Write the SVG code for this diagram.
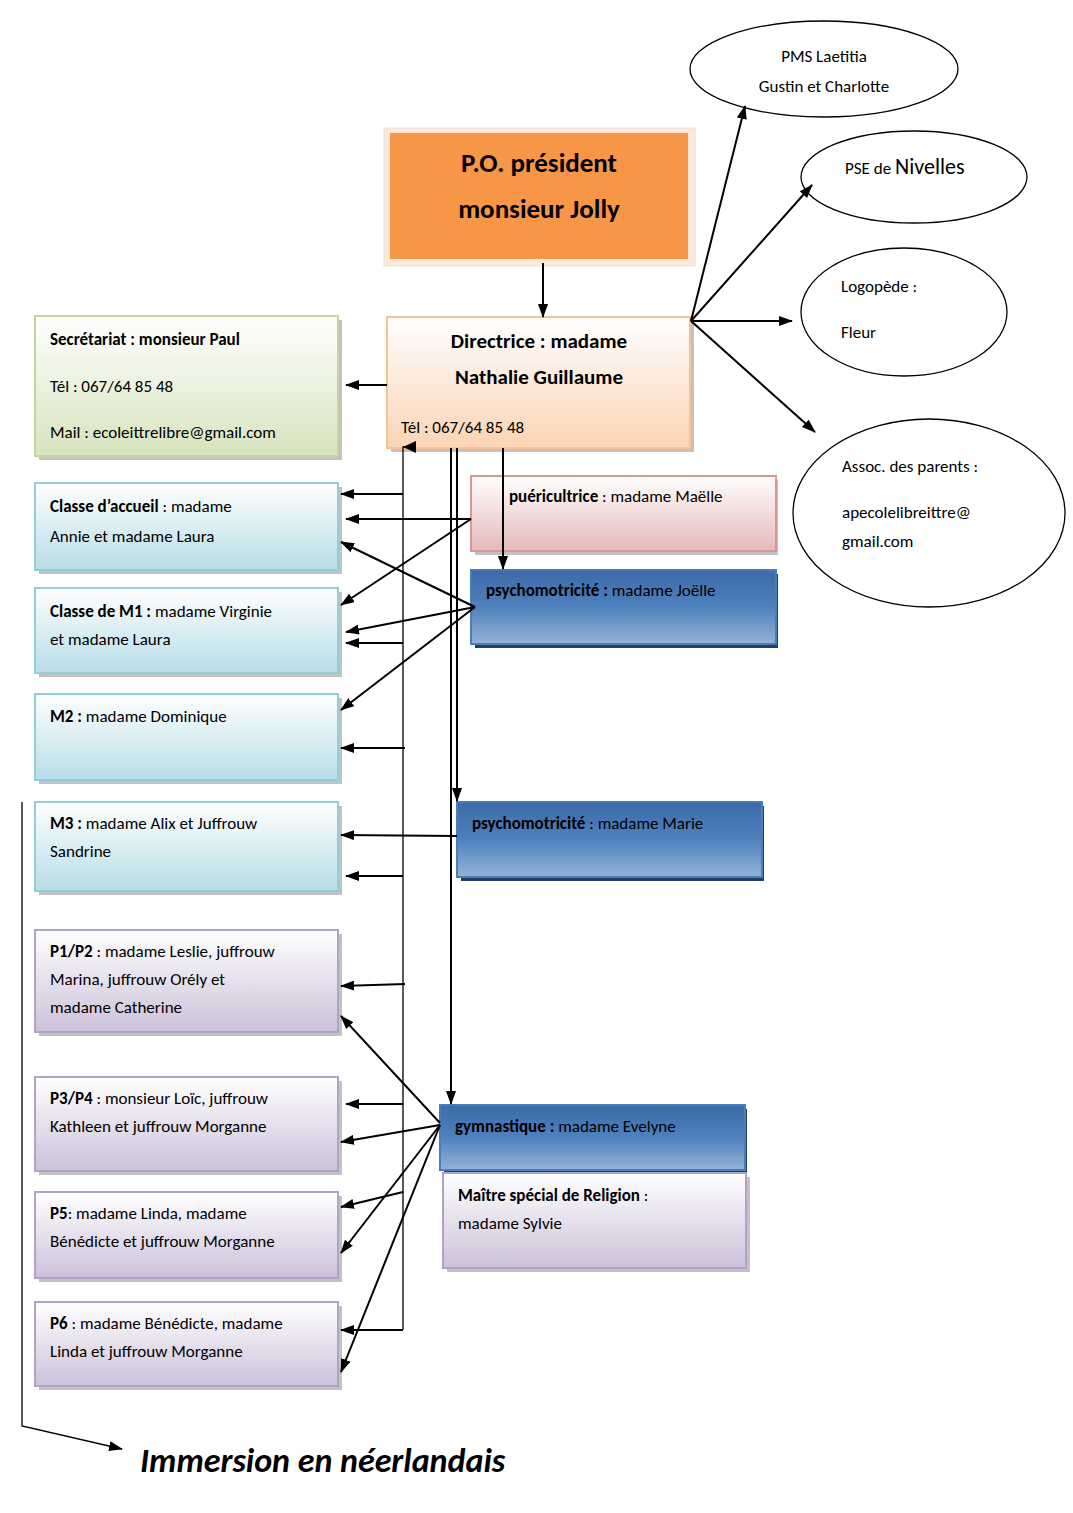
<svg xmlns="http://www.w3.org/2000/svg" width="1073" height="1513" viewBox="0 0 1073 1513">
<defs>
<linearGradient id="gG" x1="0" y1="0" x2="0" y2="1"><stop offset="0" stop-color="#ffffff"/><stop offset="1" stop-color="#d7e4bd"/></linearGradient>
<linearGradient id="gC" x1="0" y1="0" x2="0" y2="1"><stop offset="0" stop-color="#ffffff"/><stop offset="1" stop-color="#b7dde8"/></linearGradient>
<linearGradient id="gP" x1="0" y1="0" x2="0" y2="1"><stop offset="0" stop-color="#ffffff"/><stop offset="1" stop-color="#ccc1da"/></linearGradient>
<linearGradient id="gO" x1="0" y1="0" x2="0" y2="1"><stop offset="0" stop-color="#ffffff"/><stop offset="1" stop-color="#fbd4b4"/></linearGradient>
<linearGradient id="gR" x1="0" y1="0" x2="0" y2="1"><stop offset="0" stop-color="#ffffff"/><stop offset="1" stop-color="#e5b9b7"/></linearGradient>
<linearGradient id="gB" x1="0" y1="0" x2="0" y2="1"><stop offset="0" stop-color="#3c6aa8"/><stop offset="0.5" stop-color="#4f81bd"/><stop offset="1" stop-color="#95b3d7"/></linearGradient>
<marker id="a" markerWidth="10" markerHeight="8" refX="9" refY="4" orient="auto" markerUnits="userSpaceOnUse"><path d="M0,0 L10,4 L0,8 z" fill="#000"/></marker>
<marker id="b" markerWidth="14" markerHeight="10" refX="13" refY="5" orient="auto" markerUnits="userSpaceOnUse"><path d="M0,0 L14,5 L0,10 z" fill="#000"/></marker>
</defs>
<style>
text{font-family:Calibri,"Carlito","Liberation Sans",sans-serif;fill:#000}
.t{font-size:17px}
.bd{font-weight:bold}
.sh{fill:#999;opacity:.6}
.ln{stroke:#000;stroke-width:2;fill:none;marker-end:url(#b)}
.th{stroke:#000;stroke-width:1.3;fill:none}
.el{fill:#fff;stroke:#000;stroke-width:1.3}
</style>
<rect width="1073" height="1513" fill="#fff"/>

<g id="po"><rect x="384" y="128" width="311" height="138" fill="#fde9d9" stroke="#e8e0d8"/><rect x="390" y="133" width="298" height="126" fill="#f79646"/>
<text x="539" y="172" text-anchor="middle" class="bd" font-size="27">P.O. président</text><text x="539" y="218" text-anchor="middle" class="bd" font-size="27">monsieur Jolly</text></g>

<g id="dir"><rect x="391" y="321" width="303" height="131" class="sh"/><rect x="387" y="317" width="303" height="131" fill="url(#gO)" stroke="#fac090" stroke-width="2"/>
<text x="539" y="348" text-anchor="middle" class="bd" font-size="21">Directrice : madame</text><text x="539" y="384" text-anchor="middle" class="bd" font-size="21">Nathalie Guillaume</text><text x="401" y="433" class="t">Tél : 067/64 85 48</text></g>

<g id="sec"><rect x="39" y="320" width="303" height="140" class="sh"/><rect x="35" y="316" width="303" height="140" fill="url(#gG)" stroke="#c3d69b" stroke-width="2"/>
<text x="50" y="345" class="t bd" font-size="18">Secrétariat : monsieur Paul</text><text x="50" y="392" class="t">Tél : 067/64 85 48</text><text x="50" y="438" class="t">Mail : ecoleittrelibre@gmail.com</text></g>

<g id="acc"><rect x="39" y="487" width="303" height="87" class="sh"/><rect x="35" y="483" width="303" height="87" fill="url(#gC)" stroke="#92cddc" stroke-width="2"/>
<text x="50" y="512" class="t" font-size="18"><tspan class="bd">Classe d’accueil</tspan> : madame</text><text x="50" y="542" class="t" font-size="18">Annie et madame Laura</text></g>
<g id="m1"><rect x="39" y="592" width="303" height="85" class="sh"/><rect x="35" y="588" width="303" height="85" fill="url(#gC)" stroke="#92cddc" stroke-width="2"/>
<text x="50" y="617" class="t"><tspan class="bd">Classe de M1 :</tspan> madame Virginie</text><text x="50" y="645" class="t">et madame Laura</text></g>
<g id="m2"><rect x="39" y="698" width="303" height="86" class="sh"/><rect x="35" y="694" width="303" height="86" fill="url(#gC)" stroke="#92cddc" stroke-width="2"/>
<text x="50" y="722" class="t"><tspan class="bd">M2 :</tspan> madame Dominique</text></g>
<g id="m3"><rect x="39" y="806" width="303" height="89" class="sh"/><rect x="35" y="802" width="303" height="89" fill="url(#gC)" stroke="#92cddc" stroke-width="2"/>
<text x="50" y="829" class="t"><tspan class="bd">M3 :</tspan> madame Alix et Juffrouw</text><text x="50" y="857" class="t">Sandrine</text></g>

<g id="p12"><rect x="39" y="934" width="303" height="102" class="sh"/><rect x="35" y="930" width="303" height="102" fill="url(#gP)" stroke="#b2a2c7" stroke-width="2"/>
<text x="50" y="957" class="t"><tspan class="bd">P1/P2</tspan> : madame Leslie, juffrouw</text><text x="50" y="985" class="t">Marina, juffrouw Orély et</text><text x="50" y="1013" class="t">madame Catherine</text></g>
<g id="p34"><rect x="39" y="1081" width="303" height="94" class="sh"/><rect x="35" y="1077" width="303" height="94" fill="url(#gP)" stroke="#b2a2c7" stroke-width="2"/>
<text x="50" y="1104" class="t"><tspan class="bd">P3/P4</tspan> : monsieur Loïc, juffrouw</text><text x="50" y="1132" class="t">Kathleen et juffrouw Morganne</text></g>
<g id="p5"><rect x="39" y="1196" width="303" height="86" class="sh"/><rect x="35" y="1192" width="303" height="86" fill="url(#gP)" stroke="#b2a2c7" stroke-width="2"/>
<text x="50" y="1219" class="t"><tspan class="bd">P5</tspan>: madame Linda, madame</text><text x="50" y="1247" class="t">Bénédicte et juffrouw Morganne</text></g>
<g id="p6"><rect x="39" y="1306" width="303" height="84" class="sh"/><rect x="35" y="1302" width="303" height="84" fill="url(#gP)" stroke="#b2a2c7" stroke-width="2"/>
<text x="50" y="1329" class="t"><tspan class="bd">P6</tspan> : madame Bénédicte, madame</text><text x="50" y="1357" class="t">Linda et juffrouw Morganne</text></g>

<g id="pueri"><rect x="475" y="480" width="303" height="75" class="sh"/><rect x="471" y="476" width="305" height="75" fill="url(#gR)" stroke="#d99694" stroke-width="2"/>
<text x="509" y="502" class="t"><tspan class="bd">puéricultrice</tspan> : madame Maëlle</text></g>
<g id="psy1"><rect x="475" y="574" width="303" height="74" fill="#243f60"/><rect x="471" y="570" width="305" height="74" fill="url(#gB)" stroke="#4a7ebb" stroke-width="2"/>
<text x="486" y="596" class="t"><tspan class="bd">psychomotricité :</tspan> madame Joëlle</text></g>
<g id="psy2"><rect x="461" y="806" width="303" height="75" fill="#243f60"/><rect x="457" y="802" width="305" height="75" fill="url(#gB)" stroke="#4a7ebb" stroke-width="2"/>
<text x="472" y="829" class="t"><tspan class="bd">psychomotricité</tspan> : madame Marie</text></g>
<g id="gym"><rect x="444" y="1109" width="303" height="65" fill="#243f60"/><rect x="440" y="1105" width="305" height="65" fill="url(#gB)" stroke="#4a7ebb" stroke-width="2"/>
<text x="455" y="1132" class="t"><tspan class="bd">gymnastique :</tspan> madame Evelyne</text></g>
<g id="rel"><rect x="447" y="1177" width="303" height="95" class="sh"/><rect x="443" y="1173" width="303" height="95" fill="url(#gP)" stroke="#b2a2c7" stroke-width="2"/>
<text x="458" y="1201" class="t"><tspan class="bd">Maître spécial de Religion</tspan> :</text><text x="458" y="1229" class="t">madame Sylvie</text></g>

<g id="pms"><ellipse cx="824" cy="69" rx="134" ry="48" class="el"/><text x="824" y="62" text-anchor="middle" class="t" font-size="18">PMS Laetitia</text><text x="824" y="92" text-anchor="middle" class="t" font-size="18">Gustin et Charlotte</text></g>
<g id="pse"><ellipse cx="914" cy="177" rx="113" ry="46" class="el"/><text x="845" y="174" class="t">PSE de <tspan font-size="22">Nivelles</tspan></text></g>
<g id="logo"><ellipse cx="904" cy="312" rx="103" ry="64" class="el"/><text x="841" y="292" class="t">Logopède :</text><text x="841" y="338" class="t">Fleur</text></g>
<g id="assoc"><ellipse cx="929" cy="513" rx="136" ry="94" class="el"/><text x="842" y="472" class="t">Assoc.  des parents :</text><text x="842" y="518" class="t">apecolelibreittre@</text><text x="842" y="547" class="t">gmail.com</text></g>

<g id="imm"><text x="140" y="1472" font-family="'Liberation Serif',serif" font-style="italic" font-weight="bold" font-size="34">Immersion en néerlandais</text></g>

<g id="connectors">
<line x1="543" y1="263" x2="543" y2="317" class="ln"/>
<line x1="691" y1="321" x2="745" y2="106" class="ln"/>
<line x1="691" y1="321" x2="812" y2="185" class="ln"/>
<line x1="691" y1="321" x2="792" y2="321" class="ln"/>
<line x1="691" y1="321" x2="815" y2="432" class="ln"/>
<line x1="387" y1="385" x2="346" y2="385" class="ln"/>
<line x1="503" y1="448" x2="503" y2="569" class="ln"/>
<line x1="457" y1="448" x2="457" y2="801" class="ln"/>
<line x1="451" y1="448" x2="451" y2="1104" class="ln"/>
<polyline points="403,1330 403,447 416,447" class="th"/>
<path d="M403,447 L416,441 L416,453 z" fill="#000"/>
<line x1="403" y1="494" x2="341" y2="494" class="ln"/>
<line x1="471" y1="519" x2="346" y2="519" class="ln"/>
<line x1="471" y1="519" x2="341" y2="605" class="ln"/>
<line x1="475" y1="607" x2="341" y2="542" class="ln"/>
<line x1="475" y1="607" x2="346" y2="632" class="ln"/>
<line x1="403" y1="643" x2="346" y2="643" class="ln"/>
<line x1="475" y1="607" x2="341" y2="710" class="ln"/>
<line x1="405" y1="748" x2="341" y2="748" class="ln"/>
<line x1="457" y1="836" x2="341" y2="835" class="ln"/>
<line x1="403" y1="876" x2="346" y2="876" class="ln"/>
<line x1="405" y1="984" x2="341" y2="986" class="ln"/>
<line x1="440" y1="1123" x2="341" y2="1016" class="ln"/>
<line x1="403" y1="1104" x2="346" y2="1104" class="ln"/>
<line x1="440" y1="1125" x2="341" y2="1142" class="ln"/>
<line x1="403" y1="1192" x2="341" y2="1207" class="ln"/>
<line x1="440" y1="1125" x2="341" y2="1253" class="ln"/>
<line x1="403" y1="1330" x2="341" y2="1330" class="ln"/>
<line x1="440" y1="1125" x2="341" y2="1372" class="ln"/>
<polyline points="22,802 22,1426 122,1449" class="th" marker-end="url(#b)"/>
</g>
</svg>
